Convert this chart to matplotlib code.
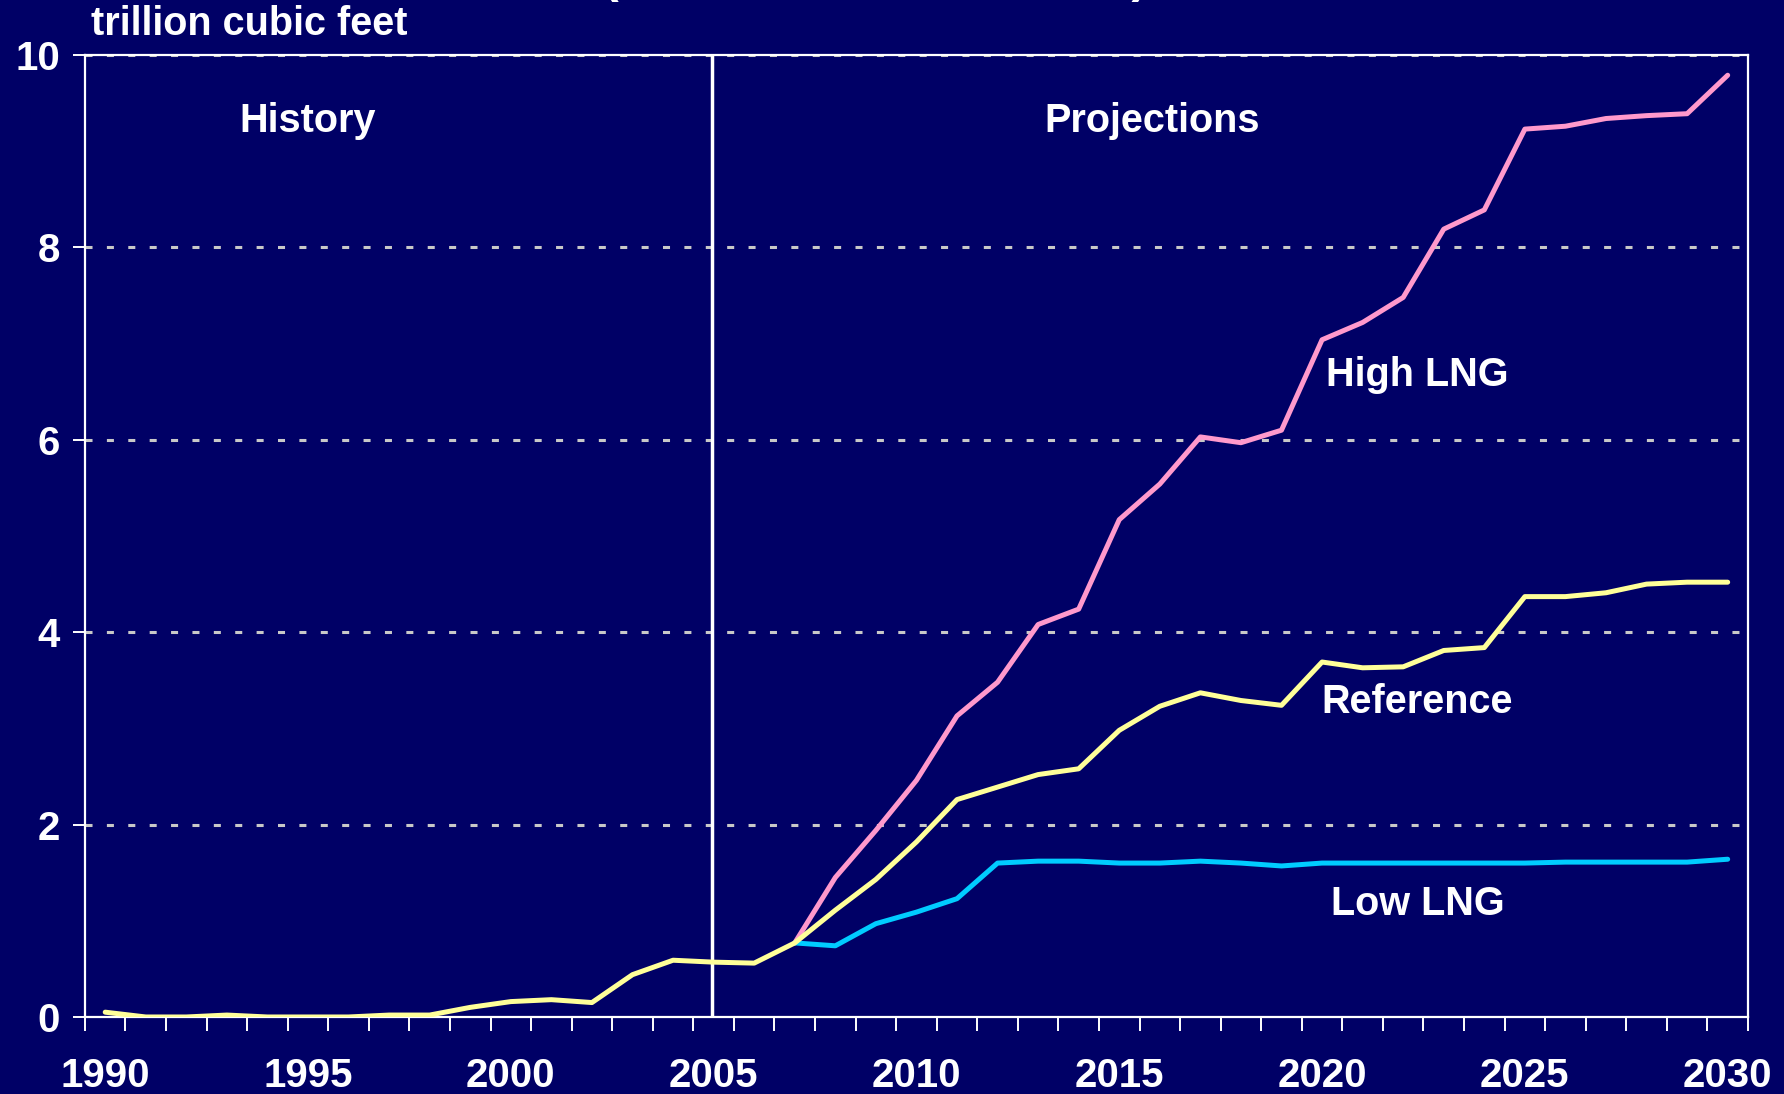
import numpy as np
import matplotlib.pyplot as plt

plt.rcParams['font.family'] = ['Liberation Sans', 'DejaVu Sans']
plt.rcParams['font.weight'] = 'bold'

# history + reference case, 1990-2030
years = np.arange(1990, 2031)
reference = [0.05, 0.0, 0.0, 0.02, 0.0, 0.0, 0.0, 0.02, 0.02, 0.10,
             0.16, 0.18, 0.15, 0.44, 0.59, 0.57, 0.56, 0.77, 1.11, 1.43,
             1.82, 2.26, 2.39, 2.52, 2.58, 2.98, 3.23, 3.37, 3.29, 3.24,
             3.69, 3.63, 3.64, 3.81, 3.84, 4.37, 4.37, 4.41, 4.50, 4.52,
             4.52]

# alternative cases, 2007-2030
case_years = np.arange(2007, 2031)
high_lng = [0.77, 1.45, 1.94, 2.46, 3.13, 3.48, 4.08, 4.24, 5.17, 5.54,
            6.03, 5.97, 6.10, 7.04, 7.22, 7.48, 8.19, 8.39, 9.23, 9.26,
            9.34, 9.37, 9.39, 9.79]
low_lng = [0.77, 0.74, 0.97, 1.09, 1.23, 1.60, 1.62, 1.62, 1.60, 1.60,
           1.62, 1.60, 1.57, 1.60, 1.60, 1.60, 1.60, 1.60, 1.60, 1.61,
           1.61, 1.61, 1.61, 1.64]

navy = '#000066'
history_end = 2004.95

fig = plt.figure(figsize=(17.84, 10.94), dpi=100, facecolor=navy)
ax = fig.add_axes([0.0476, 0.0704, 0.9322, 0.8793], facecolor=navy)

ax.set_xlim(1989.5, 2030.5)
ax.set_ylim(0, 10)

# grid
ax.set_yticks([0, 2, 4, 6, 8, 10])
for y in [2, 4, 6, 8, 10]:
    ax.axhline(y, color='#C8C8C8', lw=2.2, ls=(0, (2.3, 4.7)), zorder=1)

ax.axvline(history_end, color='white', lw=2.5, zorder=2)

ax.plot(years, reference, color='#FFFF99', lw=3.6, solid_capstyle='round', zorder=4)
ax.plot(case_years, high_lng, color='#FF99CC', lw=3.6, solid_capstyle='round', zorder=3)
ax.plot(case_years, low_lng, color='#00CCFF', lw=3.6, solid_capstyle='round', zorder=3)

for s in ax.spines.values():
    s.set_color('white')
    s.set_linewidth(1.6)

ax.set_xticks(np.arange(1990, 2031, 5))
ax.set_xticks(np.arange(1989.5, 2031, 1), minor=True)
ax.tick_params(axis='x', which='major', length=0, pad=29, labelsize=29, labelcolor='white')
ax.tick_params(axis='x', which='minor', length=10, width=1.4, color='white', direction='out')
ax.tick_params(axis='y', which='major', length=9, width=1.4, color='white', pad=9,
               labelsize=29, labelcolor='white')
for lab in ax.get_xticklabels() + ax.get_yticklabels():
    lab.set_fontweight('bold')

txt = dict(color='white', fontsize=28.5, fontweight='bold', ha='center', va='center')
ax.text(1995.0, 9.31, 'History', **txt)
ax.text(2015.8, 9.31, 'Projections', **txt)
ax.text(2022.35, 6.67, 'High LNG', **txt)
ax.text(2022.35, 3.27, 'Reference', **txt)
ax.text(2022.35, 1.17, 'Low LNG', **txt)

fig.text(91 / 1784, 1 - 24 / 1094, 'trillion cubic feet', color='white', fontsize=28.5,
         fontweight='bold', ha='left', va='center')
# title sits above the canvas, only the bracket tails show
fig.text(603 / 1784, 1 + 7.5 / 1094, '(three cases, 1990-2030)', color='white', fontsize=34,
         fontweight='bold', ha='left', va='baseline')

fig.savefig('out.png', dpi=100, facecolor=navy)
